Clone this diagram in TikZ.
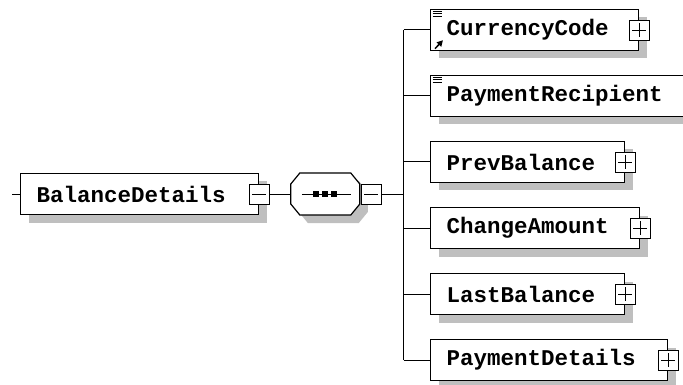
\documentclass[tikz,border=0pt]{standalone}
\usepackage{fontspec}
\newfontfamily\elemfont{Liberation Mono}
\usetikzlibrary{arrows.meta,positioning,shadows}

\begin{document}
\begin{tikzpicture}[x=1pt, y=-1pt, line width=1pt, node distance=23.6pt,
  elem/.style={rectangle, draw, line width=1.4pt, fill=white, anchor=west,
    minimum height=41pt, inner xsep=16pt, inner ysep=0pt, align=left,
    text width=#1, font=\elemfont\bfseries\fontsize{22.5}{24}\selectfont,
    general shadow={fill=black!25, shadow xshift=8pt, shadow yshift=-8pt}},
  seqbox/.style={rectangle, minimum width=68pt, minimum height=41pt,
    inner sep=0pt},
  pm/.style={rectangle, draw, line width=0.8pt, fill=white,
    minimum size=20pt, inner sep=0pt},
  plus/.style={pm, path picture={
    \draw[line width=0.8pt] ([xshift=3pt]path picture bounding box.west)
      -- ([xshift=-3pt]path picture bounding box.east)
      ([yshift=-3pt]path picture bounding box.north)
      -- ([yshift=3pt]path picture bounding box.south);}},
  minus/.style={pm, path picture={
    \draw[line width=0.8pt] ([xshift=3pt]path picture bounding box.west)
      -- ([xshift=-3pt]path picture bounding box.east);}}]
  \useasboundingbox (0,0) rectangle (683,385);
  \clip (0,0) rectangle (683,385);

  % root element and its sequence
  \coordinate (in) at (12,194);
  \node[elem=206pt] (bal) at (20,194) {BalanceDetails};
  \node[minus] (bal-pm) at (bal.east) {};
  \node[seqbox, right=21pt of bal-pm] (seq) {};
  % octagon of the sequence, shadow first
  \fill[black!25]
    ([xshift=17pt, yshift=-8pt]seq.north west) -- ([xshift=-1pt, yshift=-8pt]seq.north east)
    -- ([xshift=8pt, yshift=-19pt]seq.north east) -- ([xshift=8pt, yshift=3pt]seq.south east)
    -- ([xshift=-1pt, yshift=-8pt]seq.south east) -- ([xshift=17pt, yshift=-8pt]seq.south west)
    -- ([xshift=8pt, yshift=3pt]seq.south west) -- ([xshift=8pt, yshift=-19pt]seq.north west)
    -- cycle;
  \draw[line width=1.2pt, fill=white]
    ([xshift=9pt]seq.north west) -- ([xshift=-9pt]seq.north east)
    -- ([yshift=-11pt]seq.north east) -- ([yshift=11pt]seq.south east)
    -- ([xshift=-9pt]seq.south east) -- ([xshift=9pt]seq.south west)
    -- ([yshift=11pt]seq.south west) -- ([yshift=-11pt]seq.north west)
    -- cycle;
  \node[minus, right=1pt of seq] (seq-pm) {};
  \coordinate[right=22pt of seq-pm.east] (trunk);
  \draw ([xshift=11pt]seq.west) -- ([xshift=-9pt]seq.east);
  \foreach \dx in {-9,0,9}
    \fill ([xshift=\dx pt-3pt, yshift=-2.5pt]seq.center) rectangle +(6,-5);

  % children
  \node[elem=176pt] (cur) at (430,30) {CurrencyCode};
  \node[elem=238pt, below=of cur.south west, anchor=north west] (rec) {PaymentRecipient};
  \node[elem=162pt, below=of rec.south west, anchor=north west] (prev) {PrevBalance};
  \node[elem=177pt, below=of prev.south west, anchor=north west] (chg) {ChangeAmount};
  \node[elem=162pt, below=of chg.south west, anchor=north west] (last) {LastBalance};
  \node[elem=205pt, below=of last.south west, anchor=north west] (pdt) {PaymentDetails};
  \foreach \n in {cur,prev,chg,last,pdt}
    \node[plus] (\n-pm) at (\n.east) {};

  % simple type marks
  \foreach \n in {cur,rec}
    \foreach \dy in {2.5,5,7.5}
      \draw[line width=1pt] ([xshift=2.5pt, yshift=-\dy pt]\n.north west)
        -- ([xshift=12pt, yshift=-\dy pt]\n.north west);
  \draw[line width=1.5pt, -{Triangle[length=6pt, width=6pt]}]
    ([xshift=5pt, yshift=2.5pt]cur.south west)
    -- ([xshift=13pt, yshift=11pt]cur.south west);

  % connectors
  \draw (in) -- (bal);
  \draw (bal-pm) -- (seq);
  \draw (seq-pm) -- (trunk);
  \draw (trunk |- cur.west) -- (trunk |- pdt.west);
  \foreach \n in {cur,rec,prev,chg,last,pdt}
    \draw (trunk |- \n.west) -- (\n);
\end{tikzpicture}
\end{document}
